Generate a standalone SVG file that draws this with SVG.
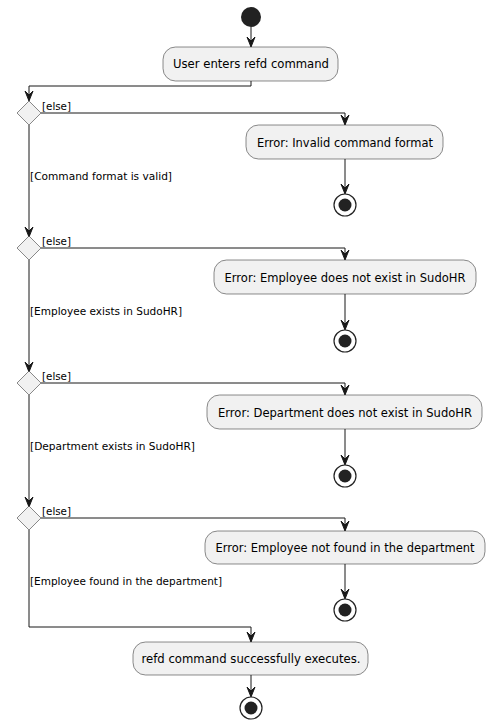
<svg xmlns="http://www.w3.org/2000/svg" width="493" height="723" viewBox="0 0 493 723">
<defs>
<style>
.act{fill:#F1F1F1;stroke:#181818;stroke-width:0.5}
.dia{fill:#F1F1F1;stroke:#181818;stroke-width:0.5}
.t{font-family:"DejaVu Sans","Liberation Sans",sans-serif;font-size:12px;fill:#000}
.l{font-family:"DejaVu Sans","Liberation Sans",sans-serif;font-size:11px;fill:#000}
.ln{fill:none;stroke:#181818;stroke-width:1}
.ah{fill:#181818;stroke:#181818;stroke-width:1}
.st{fill:#222222}
.eo{fill:none;stroke:#222222;stroke-width:1.2}
</style>
</defs>
<rect width="493" height="723" fill="#FFFFFF"/>
<g id="connectors">
<path class="ln" d="M251,27 V46"/><polygon class="ah" points="247,37 251,47 255,37 251,41"/>
<path class="ln" d="M251,81 V86 H29 V100"/><polygon class="ah" points="25,91 29,101 33,91 29,95"/>
<path class="ln" d="M41,113 H345 V124"/><polygon class="ah" points="341,115 345,125 349,115 345,119"/>
<path class="ln" d="M345,159 V193"/><polygon class="ah" points="341,184 345,194 349,184 345,188"/>
<path class="ln" d="M29,125 V236"/><polygon class="ah" points="25,227 29,237 33,227 29,231"/>
<path class="ln" d="M41,248 H345 V259"/><polygon class="ah" points="341,250 345,260 349,250 345,254"/>
<path class="ln" d="M345,294 V329"/><polygon class="ah" points="341,320 345,330 349,320 345,324"/>
<path class="ln" d="M29,260 V371"/><polygon class="ah" points="25,362 29,372 33,362 29,366"/>
<path class="ln" d="M41,383 H345 V394"/><polygon class="ah" points="341,385 345,395 349,385 345,389"/>
<path class="ln" d="M345,429 V464"/><polygon class="ah" points="341,455 345,465 349,455 345,459"/>
<path class="ln" d="M29,395 V506"/><polygon class="ah" points="25,497 29,507 33,497 29,501"/>
<path class="ln" d="M41,518 H345 V530"/><polygon class="ah" points="341,521 345,531 349,521 345,525"/>
<path class="ln" d="M345,564 V598"/><polygon class="ah" points="341,589 345,599 349,589 345,593"/>
<path class="ln" d="M29,530 V627 H251 V641"/><polygon class="ah" points="247,632 251,642 255,632 251,636"/>
<path class="ln" d="M251,675 V696"/><polygon class="ah" points="247,687 251,697 255,687 251,691"/>
</g>
<g id="start"><circle class="st" cx="251" cy="17" r="10"/></g>
<g id="userEnters">
<rect class="act" x="163" y="47" width="175" height="34" rx="12.5"/>
<text class="t" x="251" y="68" text-anchor="middle" textLength="156" lengthAdjust="spacingAndGlyphs">User enters refd command</text>
</g>
<g id="d1">
<polygon class="dia" points="29,101 41,113 29,125 17,113"/>
<text class="l" x="42" y="110" textLength="29" lengthAdjust="spacingAndGlyphs">[else]</text>
<text class="l" x="30" y="180" textLength="142" lengthAdjust="spacingAndGlyphs">[Command format is valid]</text>
</g>
<g id="err1">
<rect class="act" x="246" y="125" width="197" height="34" rx="12.5"/>
<text class="t" x="345" y="147" text-anchor="middle" textLength="176" lengthAdjust="spacingAndGlyphs">Error: Invalid command format</text>
</g>
<g id="end1"><circle class="eo" cx="345" cy="205" r="11"/><circle class="st" cx="345" cy="205" r="6.5"/></g>
<g id="d2">
<polygon class="dia" points="29,236 41,248 29,260 17,248"/>
<text class="l" x="42" y="245" textLength="29" lengthAdjust="spacingAndGlyphs">[else]</text>
<text class="l" x="30" y="315" textLength="152" lengthAdjust="spacingAndGlyphs">[Employee exists in SudoHR]</text>
</g>
<g id="err2">
<rect class="act" x="214" y="260" width="262" height="34" rx="12.5"/>
<text class="t" x="345" y="282" text-anchor="middle" textLength="241" lengthAdjust="spacingAndGlyphs">Error: Employee does not exist in SudoHR</text>
</g>
<g id="end2"><circle class="eo" cx="345" cy="341" r="11"/><circle class="st" cx="345" cy="341" r="6.5"/></g>
<g id="d3">
<polygon class="dia" points="29,371 41,383 29,395 17,383"/>
<text class="l" x="42" y="380" textLength="29" lengthAdjust="spacingAndGlyphs">[else]</text>
<text class="l" x="30" y="450" textLength="165" lengthAdjust="spacingAndGlyphs">[Department exists in SudoHR]</text>
</g>
<g id="err3">
<rect class="act" x="207" y="395" width="275" height="34" rx="12.5"/>
<text class="t" x="345" y="417" text-anchor="middle" textLength="254" lengthAdjust="spacingAndGlyphs">Error: Department does not exist in SudoHR</text>
</g>
<g id="end3"><circle class="eo" cx="345" cy="476" r="11"/><circle class="st" cx="345" cy="476" r="6.5"/></g>
<g id="d4">
<polygon class="dia" points="29,506 41,518 29,530 17,518"/>
<text class="l" x="42" y="515" textLength="29" lengthAdjust="spacingAndGlyphs">[else]</text>
<text class="l" x="30" y="585" textLength="192" lengthAdjust="spacingAndGlyphs">[Employee found in the department]</text>
</g>
<g id="err4">
<rect class="act" x="205" y="531" width="280" height="33" rx="12.5"/>
<text class="t" x="345" y="552" text-anchor="middle" textLength="259" lengthAdjust="spacingAndGlyphs">Error: Employee not found in the department</text>
</g>
<g id="end4"><circle class="eo" cx="345" cy="610" r="11"/><circle class="st" cx="345" cy="610" r="6.5"/></g>
<g id="success">
<rect class="act" x="133" y="642" width="235" height="33" rx="12.5"/>
<text class="t" x="251" y="663" text-anchor="middle" textLength="219" lengthAdjust="spacingAndGlyphs">refd command successfully executes.</text>
</g>
<g id="endFinal"><circle class="eo" cx="251" cy="708" r="11"/><circle class="st" cx="251" cy="708" r="6.5"/></g>
</svg>
